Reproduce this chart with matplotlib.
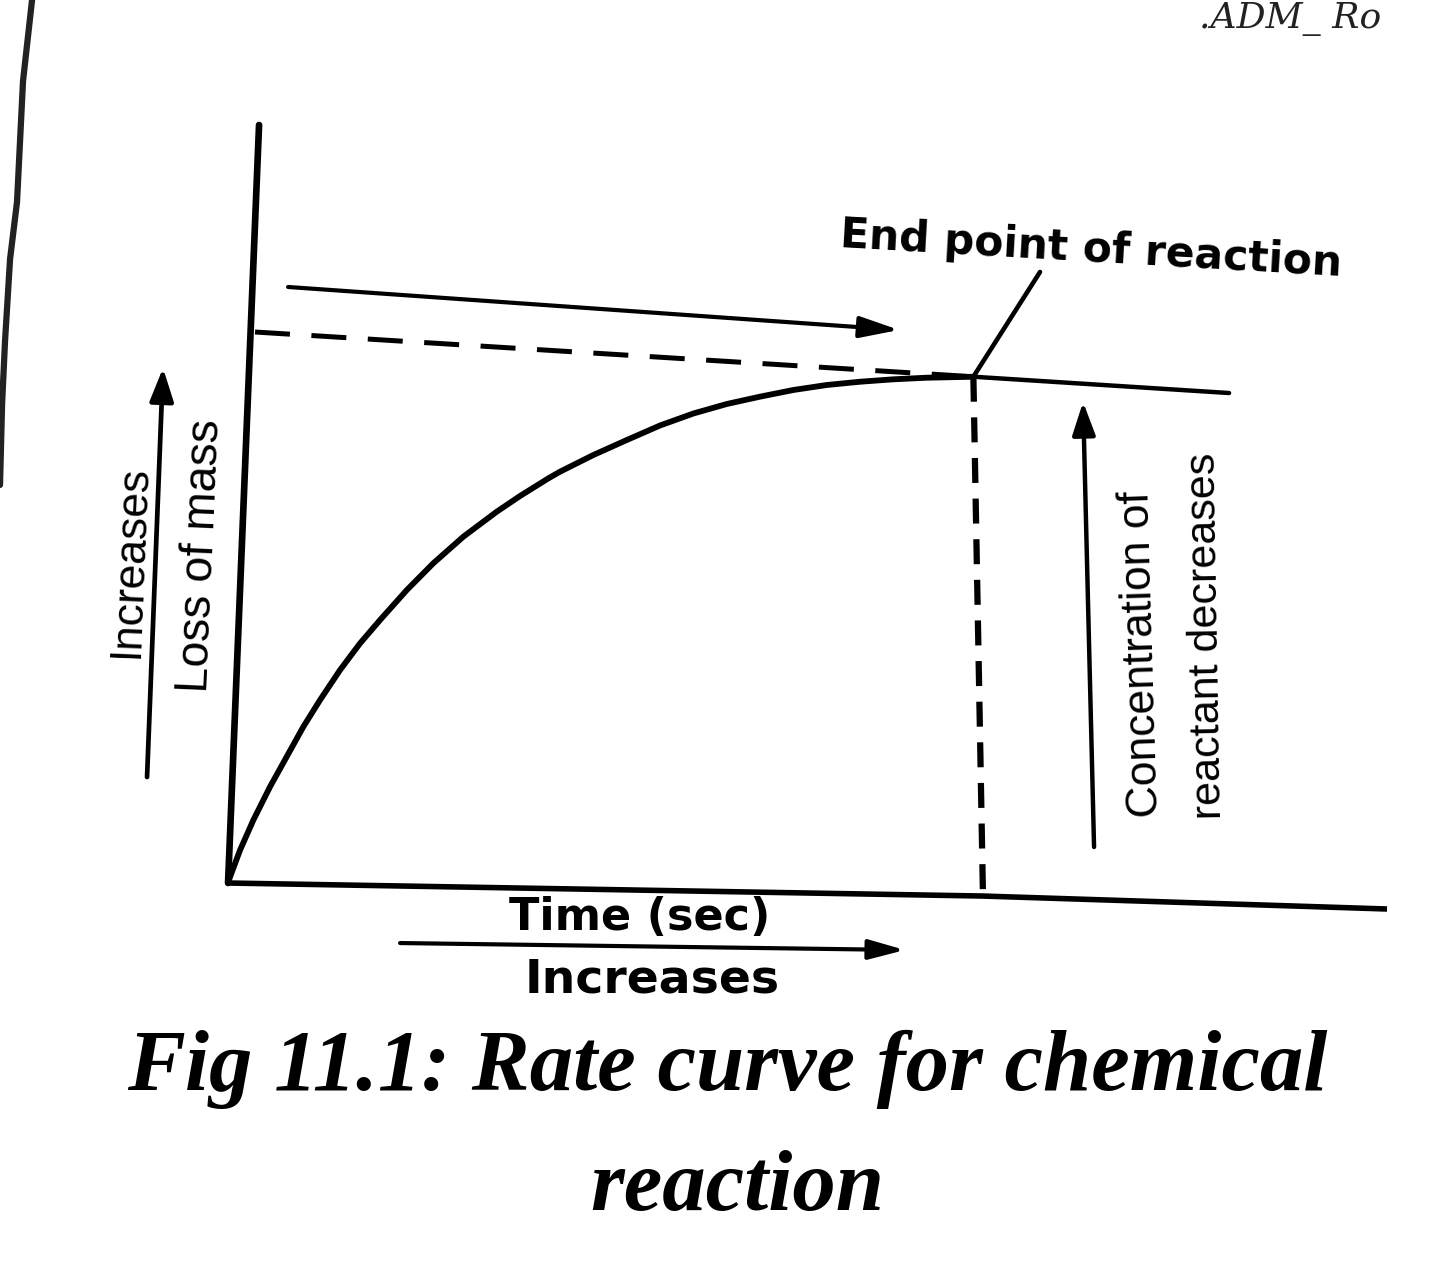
import matplotlib
matplotlib.use("Agg")
import matplotlib.pyplot as plt

# ---------------- data (time units, loss-of-mass units) ----------------
curve_t = [0, 0.17, 1.04, 2.19, 3.63, 5.07, 6.51, 7.95, 9.68, 11.41, 13.14,
           15.45, 17.74, 20.34, 23.22, 25.24, 27.68, 28.69, 31.57, 34.46, 37.34,
           40.22, 43.10, 45.98, 48.86, 51.75, 54.62, 57.50, 60.39, 64.42]
curve_m = [0, 0.79, 4.35, 8.31, 12.70, 16.66, 20.62, 24.14, 28.10, 31.62, 34.70,
           38.65, 42.18, 45.69, 48.98, 51.06, 53.38, 54.26, 56.46, 58.44, 60.36,
           61.94, 63.19, 64.16, 65.04, 65.70, 66.13, 66.45, 66.66, 66.79]

plateau_t = [64.42, 86.52]
plateau_m = [66.79, 64.64]

xaxis_t = [0, 65.25, 100.17]
xaxis_m = [0, -1.72, -3.43]
yaxis_t = [0, 2.68]
yaxis_m = [0, 100.0]

hdash_t = [2.33, 64.42]
hdash_m = [72.69, 66.79]
vdash_t = [64.42, 65.25]
vdash_m = [66.79, -1.72]

leader_t = [64.42, 70.18]
leader_m = [66.79, 80.61]

# arrows: (tail, tip)
arrow_top = [(5.19, 78.63), (58.0, 72.96)]
arrow_left = [(-7.0, 13.98), (-5.62, 67.94)]
arrow_right = [(74.85, 4.75), (73.90, 63.46)]
arrow_bottom = [(14.87, -7.92), (58.51, -8.84)]

border_t = [-16.94, -17.72, -18.24, -18.84, -19.27, -19.53, -19.71]
border_m = [116.49, 105.8, 89.84, 82.32, 71.64, 63.19, 52.51]

label_end = "End point of reaction"
label_time = "Time (sec)"
label_inc = "Increases"
label_loss = "Loss of mass"
label_conc1 = "Concentration of"
label_conc2 = "reactant decreases"
caption1 = "Fig 11.1: Rate curve for chemical"
caption2 = "reaction"
scribble = ".ADM_ Ro"

# ---------------- figure ----------------
fig = plt.figure(figsize=(14.4, 12.68), dpi=100)
fig.patch.set_facecolor("white")
ax = fig.add_axes([0, 0, 1, 1])
ax.set_xlim(-19.71, 104.75)
ax.set_ylim(-50.79, 116.49)
ax.axis("off")

K = "black"
ax.plot(xaxis_t, xaxis_m, color=K, lw=4, solid_capstyle="butt",
        solid_joinstyle="round")
ax.plot(yaxis_t, yaxis_m, color=K, lw=4.8, solid_capstyle="round")
ax.plot(curve_t, curve_m, color=K, lw=4.2, solid_joinstyle="round",
        solid_capstyle="round")
ax.plot(plateau_t, plateau_m, color=K, lw=3.2, solid_capstyle="round")
ax.plot(hdash_t, hdash_m, color=K, lw=3.6, linestyle=(0, (7.0, 4.3)),
        dash_capstyle="butt")
ax.plot(vdash_t, vdash_m, color=K, lw=4.5, linestyle=(0, (4.0, 2.5)),
        dash_capstyle="butt")
ax.plot(leader_t, leader_m, color=K, lw=3.3, solid_capstyle="round")

# scan border on left
ax.plot(border_t, border_m, color="#222222", lw=4.5, solid_capstyle="round")


def arrow(pair, lw, hl, hw):
    (t0, m0), (t1, m1) = pair
    ax.annotate("", xy=(t1, m1), xytext=(t0, m0),
                arrowprops=dict(arrowstyle=f"-|>,head_length={hl},head_width={hw}",
                                lw=lw, color=K, shrinkA=0, shrinkB=0,
                                mutation_scale=1))


arrow(arrow_top, 3.0, 24, 6.5)
arrow(arrow_left, 3.4, 20, 7.2)
arrow(arrow_right, 3.2, 20, 7.0)
arrow(arrow_bottom, 3.0, 22, 6.0)

# ---------------- texts ----------------
ax.text(74.50, 81.93, label_end, family="DejaVu Sans", weight="bold",
        fontsize=30.5, rotation=-3.3, rotation_mode="anchor",
        ha="center", va="baseline")
ax.text(35.61, -6.20, label_time, family="DejaVu Sans", weight="bold",
        fontsize=32, ha="center", va="baseline")
ax.text(36.65, -14.38, label_inc, family="DejaVu Sans", weight="bold",
        fontsize=34, ha="center", va="baseline")

ax.text(-8.40, 42.48, label_inc, family="Liberation Sans", fontsize=32,
        rotation=87.6, rotation_mode="anchor", ha="center", va="center")
ax.text(-2.33, 43.14, label_loss, family="Liberation Sans", fontsize=33.5,
        rotation=87.5, rotation_mode="anchor", ha="center", va="center")
ax.text(79.0, 30.21, label_conc1, family="Liberation Sans", fontsize=32,
        rotation=91.7, rotation_mode="anchor", ha="center", va="center")
ax.text(84.62, 32.65, label_conc2, family="Liberation Sans", fontsize=31,
        rotation=91.0, rotation_mode="anchor", ha="center", va="center")

ax.text(43.13, -27.31, caption1, family="Liberation Serif", weight="bold",
        style="italic", fontsize=62.5, ha="center", va="baseline")
ax.text(43.99, -43.14, caption2, family="Liberation Serif", weight="bold",
        style="italic", fontsize=62.5, ha="center", va="baseline")

ax.text(91.8, 116.2, scribble, family="DejaVu Serif", style="italic",
        fontsize=26, color="#222222", ha="center", va="top")

fig.savefig("out.png", dpi=100, facecolor="white")
